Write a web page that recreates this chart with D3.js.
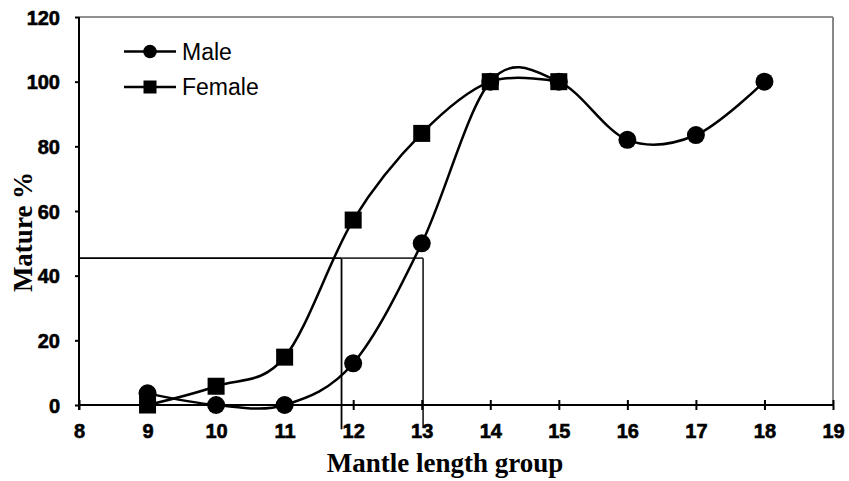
<!DOCTYPE html>
<html>
<head>
<meta charset="utf-8">
<script src="https://cdn.jsdelivr.net/npm/d3@7/dist/d3.min.js"></script>
<style>
  html, body { margin: 0; padding: 0; background: #fff; }
  svg { display: block; }
</style>
</head>
<body>
<svg id="chart" width="849" height="481"></svg>
<script>
// ---- data ----
const lengthGroups = [9, 10, 11, 12, 13, 14, 15, 16, 17, 18];
const maleMature = [3.6, 0, 0, 12.9, 50, 100, 100, 82, 83.5, 100];
const femaleGroups = [9, 10, 11, 12, 13, 14, 15];
const femaleMature = [0, 5.8, 14.8, 57.2, 84, 100, 100];
const xTicks = [8, 9, 10, 11, 12, 13, 14, 15, 16, 17, 18, 19];
const yTicks = [0, 20, 40, 60, 80, 100, 120];
const l50Level = 45.4;      // 50% maturity guide level
const l50Female = 11.83;    // female guide x
const l50Male = 13.02;      // male guide x

// ---- layout ----
const svg = d3.select("#chart");
const L = 79, R = 833, T = 17, B = 405;
const x = d3.scaleLinear().domain([8, 19]).range([L, R]);
const y = d3.scaleLinear().domain([0, 120]).range([B, T]);

function styleTick(sel) {
  sel.attr("font-family", "Arial, 'Liberation Sans', sans-serif")
    .attr("font-weight", "bold")
    .attr("font-size", 20)
    .attr("fill", "#000")
    .attr("stroke", "#000")
    .attr("stroke-width", 0.6);
}

// frame: top and right
svg.append("line").attr("x1", L).attr("x2", R).attr("y1", T).attr("y2", T)
  .attr("stroke", "#222").attr("stroke-width", 1.2);
svg.append("line").attr("x1", R).attr("x2", R).attr("y1", T).attr("y2", B)
  .attr("stroke", "#888").attr("stroke-width", 2);

// guide lines
const guide = svg.append("g").attr("fill", "none").attr("stroke-width", 1.8);
guide.append("line").attr("x1", L).attr("x2", x(l50Female))
  .attr("y1", y(l50Level)).attr("y2", y(l50Level)).attr("stroke", "#000");
guide.append("line").attr("x1", x(l50Female)).attr("x2", x(l50Female))
  .attr("y1", y(l50Level)).attr("y2", y(-7.5)).attr("stroke", "#000");
guide.append("line").attr("x1", x(l50Female)).attr("x2", x(l50Male))
  .attr("y1", y(l50Level)).attr("y2", y(l50Level)).attr("stroke", "#333");
guide.append("line").attr("x1", x(l50Male)).attr("x2", x(l50Male))
  .attr("y1", y(l50Level)).attr("y2", y(-7)).attr("stroke", "#333");

// x axis
const xAxis = svg.append("g").attr("transform", `translate(0,${B})`);
xAxis.call(d3.axisBottom(x).tickValues(d3.range(8.5, 19, 1)).tickSize(-5).tickFormat(""));
xAxis.call(d3.axisBottom(x).tickValues(xTicks).tickSize(5).tickFormat(d3.format("d")));
xAxis.selectAll(".domain").remove();
xAxis.append("line").attr("x1", L).attr("x2", R).attr("stroke", "#000").attr("stroke-width", 2);
xAxis.selectAll(".tick line").attr("stroke", "#000").attr("stroke-width", 2);
xAxis.selectAll(".tick").filter(d => xTicks.includes(d)).select("line").attr("y1", -5).attr("y2", 5);
xAxis.selectAll(".tick text")
  .attr("y", 0).attr("dy", null).attr("transform", "translate(0,33)")
  .call(styleTick);

// y axis
const yAxis = svg.append("g").attr("transform", `translate(${L},0)`);
yAxis.call(d3.axisLeft(y).tickValues(d3.range(10, 120, 20)).tickSize(-4).tickFormat(""));
yAxis.call(d3.axisLeft(y).tickValues(yTicks).tickSize(4).tickFormat(d3.format("d")));
yAxis.selectAll(".domain").remove();
yAxis.append("line").attr("y1", T).attr("y2", B + 5).attr("stroke", "#000").attr("stroke-width", 2);
yAxis.selectAll(".tick line").attr("stroke", "#000").attr("stroke-width", 2);
yAxis.selectAll(".tick text")
  .attr("x", -19).attr("dy", "0.35em")
  .call(styleTick);

// axis titles
svg.append("text").attr("x", 445).attr("y", 472).attr("text-anchor", "middle")
  .attr("font-family", "'Liberation Serif', 'Times New Roman', serif")
  .attr("font-weight", "bold").attr("font-size", 27).text("Mantle length group");
svg.append("text").attr("transform", "translate(32,232) rotate(-90)").attr("text-anchor", "middle")
  .attr("font-family", "'Liberation Serif', 'Times New Roman', serif")
  .attr("font-weight", "bold").attr("font-size", 27).text("Mature %");

// curves
const line = d3.line().x(d => x(d[0])).y(d => y(d[1])).curve(d3.curveCardinal.tension(0));
const maleData = lengthGroups.map((g, i) => [g, maleMature[i]]);
const femaleData = femaleGroups.map((g, i) => [g, femaleMature[i]]);
svg.append("path").datum(maleData).attr("d", line)
  .attr("fill", "none").attr("stroke", "#000").attr("stroke-width", 2.5);
svg.append("path").datum(femaleData).attr("d", line)
  .attr("fill", "none").attr("stroke", "#000").attr("stroke-width", 2.5);

// markers
svg.append("g").selectAll("rect").data(femaleData).join("rect")
  .attr("x", d => x(d[0]) - 8.5).attr("y", d => y(d[1]) - 8.5)
  .attr("width", 17).attr("height", 17).attr("fill", "#000");
svg.append("g").selectAll("circle").data(maleData).join("circle")
  .attr("cx", d => x(d[0])).attr("cy", d => y(d[1])).attr("r", 9).attr("fill", "#000");

// legend
const lg = svg.append("g");
const legendItems = [{ name: "Male", shape: "circle", y: 51.5 }, { name: "Female", shape: "square", y: 87 }];
legendItems.forEach(it => {
  lg.append("line").attr("x1", 124).attr("x2", 176).attr("y1", it.y).attr("y2", it.y)
    .attr("stroke", "#000").attr("stroke-width", 2.5);
  if (it.shape === "circle") {
    lg.append("circle").attr("cx", 150).attr("cy", it.y).attr("r", 6.8).attr("fill", "#000");
  } else {
    lg.append("rect").attr("x", 143.5).attr("y", it.y - 6.5).attr("width", 13).attr("height", 13).attr("fill", "#000");
  }
  lg.append("text").attr("x", 182).attr("y", it.y).attr("dy", "0.36em")
    .attr("font-family", "Arial, 'Liberation Sans', sans-serif")
    .attr("font-size", 23).attr("fill", "#000").text(it.name);
});
</script>
</body>
</html>
